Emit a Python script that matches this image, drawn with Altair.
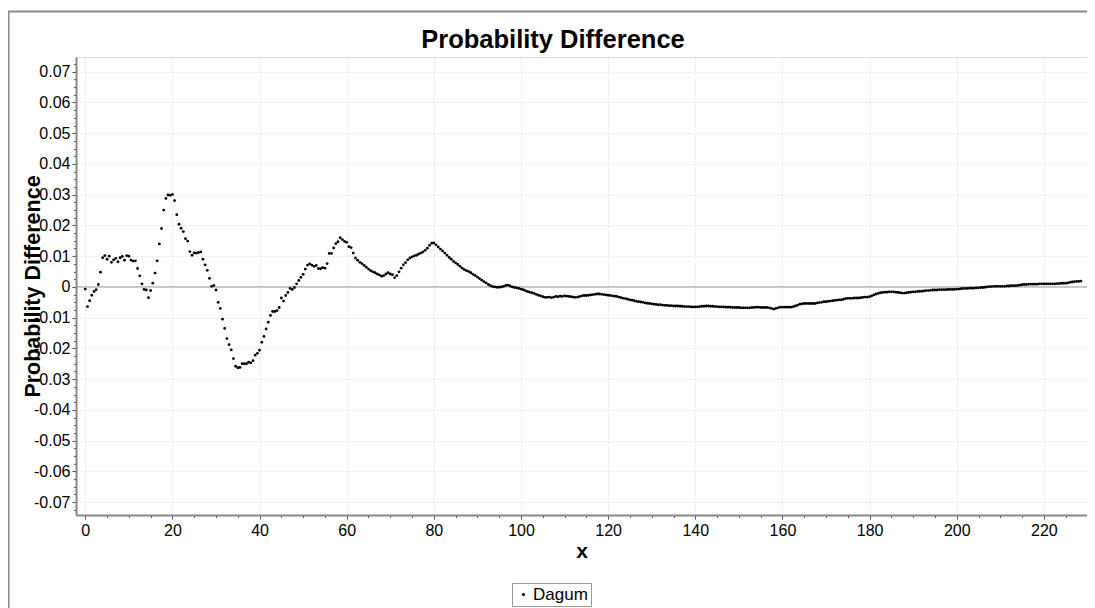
import altair as alt
import pandas as pd

# ---- data (y values in units of 1e-4, x step 0.5 starting at each segment's start) ----
seg_a_start = 0.0
seg_a = [-7, -64, -45, -27, -15, -9, 8, 48, 95, 102, 90, 100, 80, 88, 93, 82, 95, 99, 87, 102,
         100, 87, 84, 85, 60, 36, 10, -8, -10, -35, -12, 12, 45, 85, 140, 190, 250, 288, 299, 298,
         301, 281, 235, 204, 191, 180, 157, 149, 115, 103, 111, 110, 112, 114, 90, 72, 54, 28, 2, 5,
         -10, -50, -70]
seg_b_start = 31.5
seg_b = [-105, -135, -168, -188, -205, -233, -258, -263, -262, -250, -250, -250, -245, -247, -240,
         -222, -216, -206, -180, -161, -137, -115, -93, -80, -80, -77, -67, -36, -46, -28, -18, -5,
         -8, -2, 10, 21, 31, 41, 58, 71, 75, 71, 67, 70, 60, 59, 63, 61, 76, 109, 109, 127, 141,
         147, 160, 154, 148, 145, 131]
seg_c_start = 61.0
seg_c = [128, 110, 94, 87, 80, 76, 70, 64, 58, 53, 49, 46, 42, 39, 35, 37, 42, 46, 42, 40, 30, 37,
         49, 61, 72, 79, 88, 94, 98, 101, 103, 107, 110, 114, 119, 126, 135, 142, 143, 137, 130,
         123, 117, 110, 103, 96, 90, 83, 78, 73, 67, 61, 56, 53, 50, 46, 41, 37, 32, 27, 22, 17, 13,
         8, 4, 1, 0, -1, -1, 0, 2, 5, 6, 3, 0, -2, -3, -5, -7]
seg_d_start = 100.5
seg_d = [-9, -12, -15, -17, -19, -21, -24, -27, -29, -32, -34, -34, -33, -35, -33, -31, -32, -30,
         -31, -29, -30, -31, -32, -33, -34, -33, -31, -29, -28, -28, -27, -26, -25, -24, -23, -23,
         -24, -25, -26, -27, -28, -29, -30, -31, -33, -35, -37, -38, -40, -42, -43, -45, -47, -48,
         -49, -50, -52, -53, -54, -55, -56, -57, -58, -58, -59, -60, -60, -61, -61, -62, -62, -62,
         -63, -63, -64, -64, -64, -65, -65, -65, -65, -64, -63, -63, -62, -62, -63, -63, -64, -64,
         -65, -65, -65, -66, -66, -66, -67, -67, -67, -67, -68, -68, -68, -68, -68, -67, -67, -66,
         -66, -67, -67, -67, -67, -68, -70, -72, -70, -68, -66, -66, -66, -66, -66, -66, -64, -62,
         -59, -56]
seg_e_start = 164.5
seg_e = [-55, -54, -54, -54, -54, -54, -54, -52, -51, -50, -48, -48, -47, -46, -45, -44, -43, -42,
         -42, -40, -38, -37, -37, -37, -36, -36, -36, -35, -34, -33, -33, -32, -29, -26, -23, -21,
         -19, -18, -17, -17, -16, -16, -16, -17, -18, -19, -20, -20, -19, -18, -17, -16, -16, -15,
         -14, -14, -13, -12, -12, -11, -10, -10, -10, -9, -9, -9, -9, -8, -8, -8, -8, -7, -7, -6,
         -5, -5, -5, -4, -4, -4, -3, -3, -2, -2, -1, 0, 1, 1, 2, 2, 2, 2, 2, 2, 3, 3, 4, 4, 4, 5, 6,
         7, 8, 8, 9, 9, 9, 9, 9, 10, 10, 10, 10, 10, 10, 10, 10, 11, 11, 12, 12, 12, 13, 15, 16, 17,
         18, 18, 19]

series_name = "Dagum"
chart_title = "Probability Difference"
x_ticks = [v * 5 for v in range(0, 47)]
y_ticks = [round(v * 0.0025, 4) for v in range(-29, 30)]
zero_line = [0.0]

rows = []
for start, seg in [(seg_a_start, seg_a), (seg_b_start, seg_b), (seg_c_start, seg_c),
                   (seg_d_start, seg_d), (seg_e_start, seg_e)]:
    for i, v in enumerate(seg):
        rows.append({"x": start + 0.5 * i, "y": v / 10000.0, "series": series_name})
df = pd.DataFrame(rows)

PLOT_W, PLOT_H = 1011, 458
FONT = "Liberation Sans"

x_scale = alt.Scale(domain=[-2.13, 229.9], nice=False, zero=False)
y_scale = alt.Scale(domain=[-0.0742, 0.0748], nice=False, zero=False)

x_axis = alt.Axis(
    values=x_ticks,
    labelExpr="datum.value % 20 === 0 ? datum.label : ''",
    title="x", titleFontSize=21, titleFont=FONT, titleFontWeight="bold", titleColor="black",
    titlePadding=2,
    labelFont=FONT, labelFontSize=16, labelColor="black", labelPadding=3,
    tickSize={"condition": {"test": "datum.value % 20 === 0", "value": 4}, "value": 2.5},
    tickColor="#555",
    grid=True,
    gridOpacity={"condition": {"test": "datum.value % 20 === 0", "value": 1}, "value": 0},
    gridColor="#e4e4e4", gridDash=[2, 2],
    domainColor="#888", domainWidth=2,
)
y_axis = alt.Axis(
    values=y_ticks,
    labelExpr="round(datum.value*400) % 4 === 0 ? (datum.value < -0.000001 ? '-' : '') + format(abs(datum.value), '.2~f') : ''",
    title="Probability Difference", titleFontSize=21.5, titleFont=FONT, titleFontWeight="bold",
    titleColor="black", titleX=-37, titleY=229, titleAngle=270, titleAlign="center",
    titleBaseline="alphabetic",
    labelFont=FONT, labelFontSize=16, labelColor="black", labelPadding=2,
    tickSize={"condition": {"test": "round(datum.value*400) % 4 === 0", "value": 4}, "value": 2.5},
    tickColor="#555",
    grid=True,
    gridOpacity={"condition": {"test": "round(datum.value*400) % 4 === 0", "value": 1}, "value": 0},
    gridColor="#e4e4e4", gridDash=[2, 2],
    domainColor="#888", domainWidth=2,
)

one_row = pd.DataFrame({"t": [chart_title]})

frame = alt.Chart(one_row).mark_rect(
    filled=False, stroke="#8a8a8a", strokeWidth=2
).encode(
    x=alt.value(-67.5), x2=alt.value(1200), y=alt.value(-45.5), y2=alt.value(700)
)

title_text = alt.Chart(one_row).mark_text(
    font=FONT, fontSize=25.5, fontWeight="bold", color="black",
    align="center", baseline="alphabetic"
).encode(
    text="t:N", x=alt.value(477), y=alt.value(-9.5)
)

zero = alt.Chart(pd.DataFrame({"y": zero_line})).mark_rule(color="#999999", strokeWidth=1).encode(
    y=alt.Y("y:Q", scale=y_scale, axis=y_axis)
)

points = alt.Chart(df).mark_circle(size=8, opacity=1).encode(
    x=alt.X("x:Q", scale=x_scale, axis=x_axis),
    y=alt.Y("y:Q", scale=y_scale, axis=y_axis),
    color=alt.Color(
        "series:N",
        scale=alt.Scale(range=["black"]),
        legend=alt.Legend(
            title=None, orient="none", legendX=436, legendY=526,
            strokeColor="#999", fillColor="white", padding=3, cornerRadius=0,
            symbolType="circle", symbolSize=10, symbolFillColor="black", symbolStrokeWidth=0,
            labelFont=FONT, labelFontSize=17, labelColor="black", labelOffset=1,
        ),
    ),
)

chart = alt.layer(frame, title_text, zero, points).properties(
    width=PLOT_W,
    height=PLOT_H,
    padding={"left": 68, "top": 49, "right": 0, "bottom": 93},
    autosize=alt.AutoSizeParams(type="none"),
).configure_view(stroke="#888", strokeWidth=1).configure(background="white")

chart.save("out.html", embed_options={"renderer": "svg", "actions": False})
